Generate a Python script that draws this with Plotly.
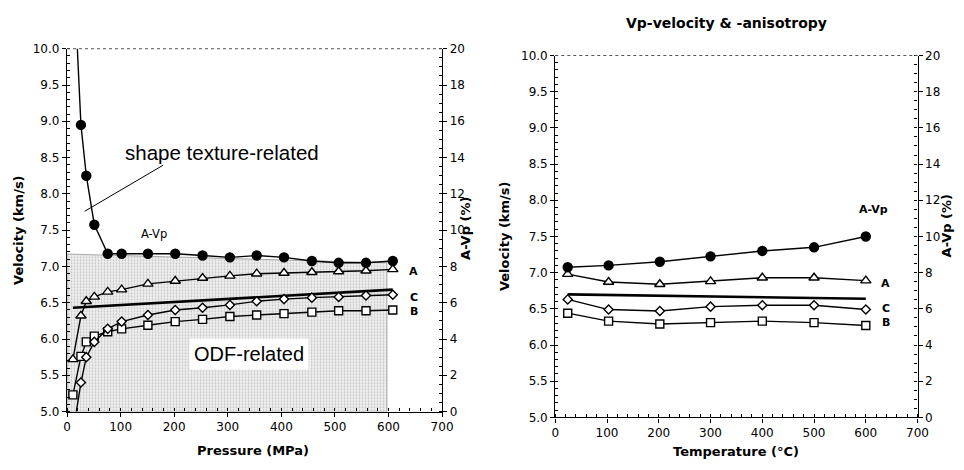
import plotly.graph_objects as go

# ---- Pressure series (left panel) ----
pressure = [11, 26, 36, 51, 76, 102, 151, 202, 253, 304, 354, 405, 457, 507, 558, 608]
vp_A = [5.72, 6.32, 6.52, 6.58, 6.65, 6.68, 6.76, 6.80, 6.84, 6.87, 6.90, 6.91, 6.92, 6.93, 6.94, 6.96]
vp_C = [4.70, 5.40, 5.75, 5.96, 6.14, 6.24, 6.33, 6.40, 6.43, 6.47, 6.52, 6.55, 6.57, 6.58, 6.60, 6.61]
vp_B = [5.23, 5.76, 5.96, 6.04, 6.10, 6.14, 6.19, 6.24, 6.27, 6.31, 6.33, 6.35, 6.37, 6.39, 6.39, 6.40]
avp_pressure = [25.2, 15.8, 13.0, 10.3, 8.7, 8.7, 8.7, 8.7, 8.6, 8.5, 8.6, 8.5, 8.3, 8.2, 8.2, 8.3]
mean_line_p = [11, 608]
mean_line_p_v = [6.43, 6.68]
odf_p = [0, 597]
odf_top = [7.17, 7.05]

# ---- Temperature series (right panel) ----
temperature = [24, 103, 202, 300, 400, 500, 600]
vt_A = [6.98, 6.87, 6.84, 6.88, 6.93, 6.93, 6.89]
vt_C = [6.63, 6.49, 6.47, 6.53, 6.55, 6.55, 6.49]
vt_B = [6.44, 6.33, 6.29, 6.31, 6.33, 6.31, 6.27]
avp_temperature = [8.3, 8.4, 8.6, 8.9, 9.2, 9.4, 10.0]
mean_line_t = [24, 600]
mean_line_t_v = [6.70, 6.64]

W, H = 964, 470
FONT = "DejaVu Sans"
TICKFONT = dict(family=FONT, size=12, color="black")

fig = go.Figure()

# stippled ODF region
fig.add_trace(go.Scatter(
    x=[odf_p[0], odf_p[1], odf_p[1], odf_p[0], odf_p[0]],
    y=[5, 5, odf_top[1], odf_top[0], 5],
    xaxis="x", yaxis="y", mode="lines", fill="toself",
    line=dict(color="#a8a8a8", width=1),
    fillcolor="#e8e8e8",
    fillpattern=dict(shape=".", fgcolor="#9a9a9a", bgcolor="#f0f0f0", size=3, solidity=0.3),
    hoverinfo="skip", showlegend=False))

def series(x, y, xa, ya, symbol, size, filled, lw=1.4):
    fig.add_trace(go.Scatter(
        x=x, y=y, xaxis=xa, yaxis=ya, mode="lines+markers",
        line=dict(color="black", width=lw),
        marker=dict(symbol=symbol, size=size,
                    color="black" if filled else "white",
                    line=dict(color="black", width=1.4)),
        showlegend=False, cliponaxis=True))

# left panel
fig.add_trace(go.Scatter(x=mean_line_p, y=mean_line_p_v, xaxis="x", yaxis="y", mode="lines",
                         line=dict(color="black", width=2.6), showlegend=False))
series(pressure, vp_B, "x", "y", "square", 8, False)
series(pressure, vp_C, "x", "y", "diamond", 7, False)
series(pressure, vp_A, "x", "y", "triangle-up", 9, False)
series(pressure, avp_pressure, "x", "y2", "circle", 9, True)

# right panel
fig.add_trace(go.Scatter(x=mean_line_t, y=mean_line_t_v, xaxis="x2", yaxis="y5", mode="lines",
                         line=dict(color="black", width=2.6), showlegend=False))
series(temperature, vt_B, "x2", "y5", "square", 8, False)
series(temperature, vt_C, "x2", "y5", "diamond", 7, False)
series(temperature, vt_A, "x2", "y5", "triangle-up", 9, False)
series(temperature, avp_temperature, "x2", "y6", "circle", 9, True)

def px_x(a, b):
    return [a / W, b / W]

def px_y(top, bottom):
    return [1 - bottom / H, 1 - top / H]

def base_axis(rng, dtick, minor_dtick, **kw):
    d = dict(range=rng, dtick=dtick, showline=True, linecolor="black", linewidth=1.3,
             showgrid=False, zeroline=False, ticks="outside", ticklen=4, tickwidth=1,
             tickcolor="black", tickfont=TICKFONT,
             minor=dict(dtick=minor_dtick, ticks="inside", ticklen=3, tickwidth=1,
                        tickcolor="black", showgrid=False))
    d.update(kw)
    return d

def inner_axis(rng, dtick, **kw):
    d = dict(range=rng, dtick=dtick, showline=False, showgrid=False, zeroline=False,
             ticks="inside", ticklen=4, tickwidth=1, tickcolor="black",
             showticklabels=False)
    d.update(kw)
    return d

L_X = px_x(64, 445)
L_Y = px_y(43, 417)
R_X = px_x(560, 928)
R_Y = px_y(50, 423)

fig.update_layout(
    width=W, height=H, margin=dict(l=0, r=0, t=0, b=0),
    paper_bgcolor="white", plot_bgcolor="white",
    xaxis=base_axis([0, 700], 100, 20, domain=L_X, anchor="y"),
    yaxis=base_axis([5, 10], 0.5, 0.1, domain=L_Y, anchor="x", tickformat=".1f"),
    yaxis2=base_axis([0, 20], 2, 0.5, overlaying="y", side="right", anchor="x"),
    xaxis3=inner_axis([0, 700], 100, overlaying="x", anchor="y"),
    yaxis3=inner_axis([5, 10], 0.5, overlaying="y", anchor="x"),
    yaxis4=inner_axis([0, 20], 2, overlaying="y", side="right", anchor="x"),
    xaxis2=base_axis([0, 700], 100, 20, domain=R_X, anchor="y5"),
    yaxis5=base_axis([5, 10], 0.5, 0.1, domain=R_Y, anchor="x2", tickformat=".1f"),
    yaxis6=base_axis([0, 20], 2, 0.5, overlaying="y5", side="right", anchor="x2"),
    xaxis4=inner_axis([0, 700], 100, overlaying="x2", anchor="y5"),
    yaxis7=inner_axis([5, 10], 0.5, overlaying="y5", anchor="x2"),
    yaxis8=inner_axis([0, 20], 2, overlaying="y5", side="right", anchor="x2"),
)

# dotted top frame lines
for xr, yr in (("x", "y"), ("x2", "y5")):
    fig.add_shape(type="line", xref=f"{xr} domain", yref=f"{yr} domain",
                  x0=0, x1=1, y0=1, y1=1, line=dict(color="#555", width=1, dash="dot"))

def note(text, x, y, xref, yref, size=12, bold=False, family=FONT, **kw):
    t = f"<b>{text}</b>" if bold else text
    fig.add_annotation(text=t, x=x, y=y, xref=xref, yref=yref, showarrow=False,
                       xanchor="center", yanchor="middle",
                       font=dict(family=family, size=size, color="black"), **kw)

# axis titles
note("Velocity (km/s)", 14 / W, 1 - 230 / H, "paper", "paper", 13, True, textangle=-90)
note("A-Vp (%)", 468 / W, 1 - 228 / H, "paper", "paper", 13, True, textangle=-90)
note("Pressure (MPa)", 253 / W, 1 - 457 / H, "paper", "paper", 13, True)
note("Velocity (km/s)", 509 / W, 1 - 236 / H, "paper", "paper", 13, True, textangle=-90)
note("A-Vp (%)", 957 / W, 1 - 226 / H, "paper", "paper", 13, True, textangle=-90)
note("Temperature (°C)", 744 / W, 1 - 458 / H, "paper", "paper", 13, True)
note("Vp-velocity &amp; -anisotropy", 734 / W, 1 - 17 / H, "paper", "paper", 14, True)

# left panel labels
note("shape texture-related", 290, 8.57, "x", "y", 20.5, False, "Liberation Sans")
note("ODF-related", 339, 5.79, "x", "y", 20, False, "Liberation Sans",
     bgcolor="white", borderpad=4)
note("A-Vp", 162, 7.44, "x", "y", 11.5)
note("A", 647, 6.93, "x", "y", 11, True)
note("C", 647, 6.57, "x", "y", 11, True)
note("B", 647, 6.38, "x", "y", 11, True)
fig.add_annotation(text="", x=33, y=7.76, xref="x", yref="y", showarrow=True,
                   arrowhead=0, arrowwidth=1, arrowcolor="black", ax=80, ay=-47,
                   standoff=0, startstandoff=0)

# right panel labels
note("A-Vp", 615, 7.87, "x2", "y5", 11, True)
note("A", 639, 6.85, "x2", "y5", 11, True)
note("C", 639, 6.50, "x2", "y5", 11, True)
note("B", 639, 6.31, "x2", "y5", 11, True)

fig.write_html("out.html")
